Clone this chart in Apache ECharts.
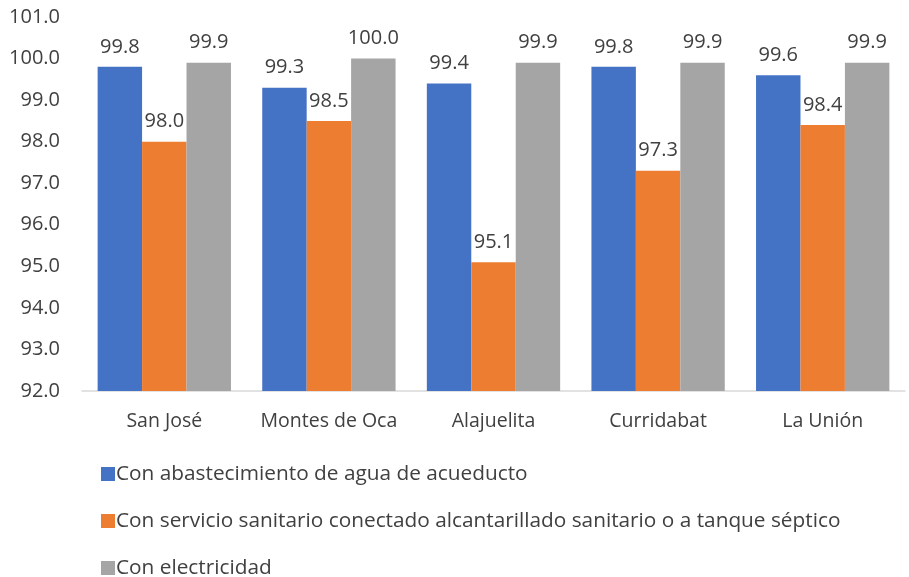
<!DOCTYPE html>
<html><head><meta charset="utf-8">
<script src="https://cdn.jsdelivr.net/npm/echarts@6/dist/echarts.min.js"></script>
<style>html,body{margin:0;padding:0;background:#fff}#c{width:909px;height:577px}</style>
</head><body><div id="c"></div>
<script>
const categories = ["San José", "Montes de Oca", "Alajuelita", "Curridabat", "La Unión"];
const seriesNames = [
  "Con abastecimiento de agua de acueducto",
  "Con servicio sanitario conectado alcantarillado sanitario o a tanque séptico",
  "Con electricidad"
];
const agua = [99.8, 99.3, 99.4, 99.8, 99.6];
const sanitario = [98.0, 98.5, 95.1, 97.3, 98.4];
const electricidad = [99.9, 100.0, 99.9, 99.9, 99.9];
const colors = ["#4472C4", "#ED7D31", "#A5A5A5"];
const font = "'Open Sans', 'Liberation Sans', sans-serif";

const chart = echarts.init(document.getElementById('c'), null, {renderer: 'canvas'});
const mk = (name, data, color) => ({
  name, type: 'bar', data, barGap: '0%', barCategoryGap: '19%',
  itemStyle: {color},
  label: {show: true, position: 'top', distance: 10, color: '#404040', fontSize: 20, fontFamily: font,
    formatter: p => p.value.toFixed(1)}
});
chart.setOption({
  animation: false,
  grid: {left: 82, right: 4, top: 17, bottom: 186, containLabel: false},
  xAxis: {type: 'category', data: categories,
    axisLine: {lineStyle: {color: '#D9D9D9', width: 1.5}}, axisTick: {show: false},
    axisLabel: {color: '#404040', fontSize: 19.5, fontFamily: font, margin: 20, interval: 0}},
  yAxis: {type: 'value', min: 92, max: 101, interval: 1,
    axisLine: {show: false}, axisTick: {show: false}, splitLine: {show: false},
    axisLabel: {color: '#404040', fontSize: 20, fontFamily: font, margin: 22, formatter: v => v.toFixed(1)}},
  legend: {orient: 'vertical', left: 96, top: 458, height: 200, itemWidth: 14, itemHeight: 14, itemGap: 25,
    icon: 'rect', textStyle: {color: '#404040', fontSize: 20.8, lineHeight: 22, fontFamily: font, padding: [0,0,0,-4]},
    data: seriesNames},
  series: [mk(seriesNames[0], agua, colors[0]), mk(seriesNames[1], sanitario, colors[1]), mk(seriesNames[2], electricidad, colors[2])]
});
</script></body></html>
